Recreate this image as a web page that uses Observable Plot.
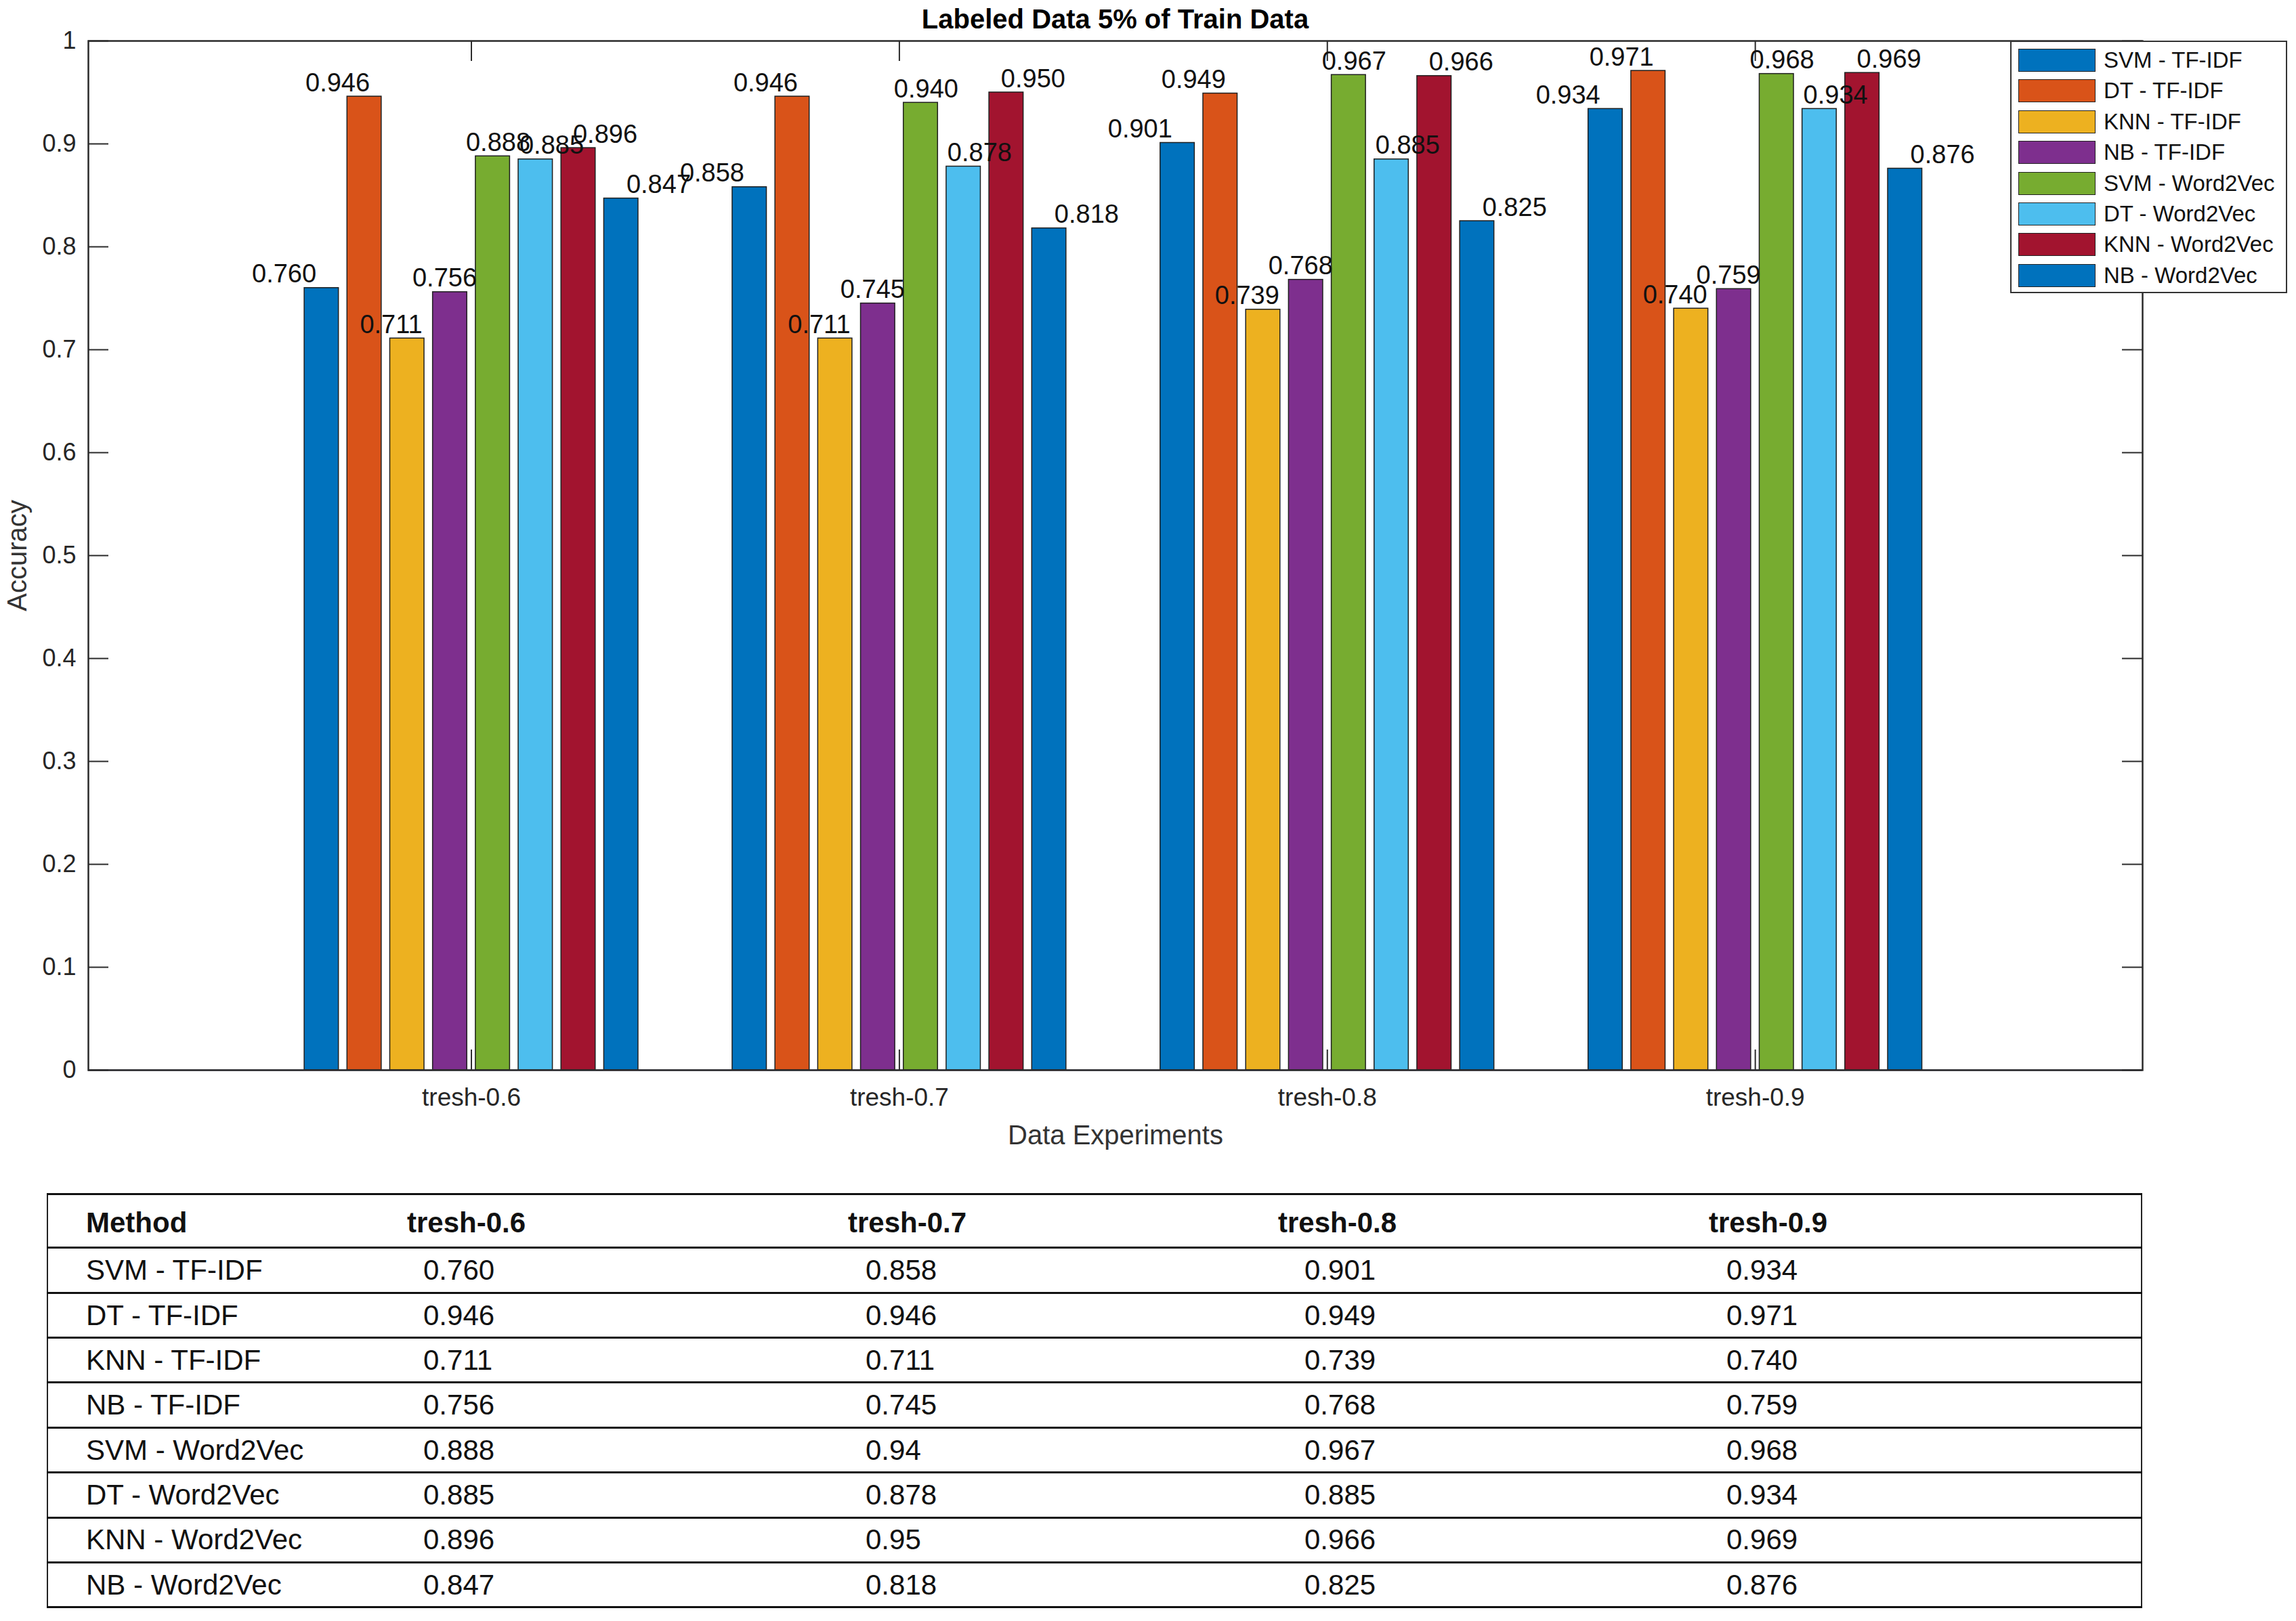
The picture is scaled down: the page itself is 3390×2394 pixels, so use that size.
<!DOCTYPE html>
<html><head><meta charset="utf-8">
<script src="https://cdn.jsdelivr.net/npm/d3@7"></script>
<script src="https://cdn.jsdelivr.net/npm/@observablehq/plot@0.6"></script>
<style>
html,body{margin:0;padding:0;background:#fff;}
#root{position:relative;width:3390px;height:2394px;overflow:hidden;font-family:Arial,"Liberation Sans",Helvetica,sans-serif;color:#111;}
#chart{position:absolute;left:0;top:0;}
#title{position:absolute;left:130px;width:3033px;top:6px;line-height:44px;text-align:center;font-weight:bold;font-size:40px;color:#000;}
#legend{position:absolute;left:2968px;top:60px;width:405px;height:369px;border:2px solid #333;background:#fff;box-sizing:content-box;}
.lg-row{position:absolute;left:10px;height:34px;}
.lg-sw{position:absolute;left:0;top:0;width:112px;height:32px;border:1.5px solid #222;}
.lg-tx{position:absolute;left:126px;top:-3px;line-height:40px;font-size:33px;white-space:nowrap;color:#111;}
#table{position:absolute;left:69px;top:1764px;width:3094px;height:610px;border-left:2px solid #222;border-right:2px solid #222;box-sizing:border-box;}
.t-line{position:absolute;left:-2px;width:3094px;height:0;border-top:3.5px solid #111;}
.t-cell{position:absolute;font-size:42px;white-space:nowrap;color:#111;}
.t-head{font-weight:bold;}
</style></head><body><div id="root"><div id="chart"></div><div id="title"></div><div id="legend"></div><div id="table"></div></div>
<script>
// ---- data ----
const title = "Labeled Data 5% of Train Data";
const thresholds = ["tresh-0.6", "tresh-0.7", "tresh-0.8", "tresh-0.9"];
const methods = ["SVM - TF-IDF", "DT - TF-IDF", "KNN - TF-IDF", "NB - TF-IDF",
                 "SVM - Word2Vec", "DT - Word2Vec", "KNN - Word2Vec", "NB - Word2Vec"];
const svmTfidf = ["0.760", "0.858", "0.901", "0.934"];
const dtTfidf  = ["0.946", "0.946", "0.949", "0.971"];
const knnTfidf = ["0.711", "0.711", "0.739", "0.740"];
const nbTfidf  = ["0.756", "0.745", "0.768", "0.759"];
const svmW2v   = ["0.888", "0.94",  "0.967", "0.968"];
const dtW2v    = ["0.885", "0.878", "0.885", "0.934"];
const knnW2v   = ["0.896", "0.95",  "0.966", "0.969"];
const nbW2v    = ["0.847", "0.818", "0.825", "0.876"];
const yTicks = [0, 0.1, 0.2, 0.3, 0.4, 0.5, 0.6, 0.7, 0.8, 0.9, 1];
const colors = ["#0072BD", "#D95319", "#EDB120", "#7E2F8E", "#77AC30", "#4DBEEE", "#A2142F", "#0072BD"];
const xLabel = "Data Experiments";
const yLabel = "Accuracy";

const series = [svmTfidf, dtTfidf, knnTfidf, nbTfidf, svmW2v, dtW2v, knnW2v, nbW2v];
const rows = methods.flatMap((m, s) => series[s].map((v, g) => ({method: m, s, g, threshold: thresholds[g], value: +v, text: v})));

// ---- chart ----
const W = 3390, H = 1720, mL = 130, mR = 227, mT = 60, mB = 140;
const innerW = W - mL - mR, innerH = H - mT - mB, tick = 30;
const barStep = 0.1, barW = 0.08, labelStep = 0.125;
const fmtY = d => d === 0 ? "0" : d === 1 ? "1" : d.toFixed(1);
const groupPos = thresholds.map((t, i) => i + 1);

const chart = Plot.plot({
  width: W, height: H,
  marginLeft: mL, marginRight: mR, marginTop: mT, marginBottom: mB,
  style: {fontFamily: "Arial, 'Liberation Sans', Helvetica, sans-serif", background: "transparent", overflow: "visible"},
  x: {type: "linear", domain: [0.105, 4.905], axis: null},
  y: {domain: [0, 1], axis: null},
  color: {domain: methods, range: colors},
  marks: [
    Plot.ruleY([0], {stroke: "#a9a9c4", strokeWidth: 3}),
    Plot.rectY(rows, {
      x1: d => d.g + 1 + (d.s - 3.5) * barStep - barW / 2,
      x2: d => d.g + 1 + (d.s - 3.5) * barStep + barW / 2,
      y1: 0, y2: "value", fill: "method", stroke: "#1f1f1f", strokeWidth: 1.5
    }),
    Plot.frame({stroke: "#2a2a2a", strokeWidth: 2.5}),
    Plot.tickY(yTicks, {y: d => d, insetRight: innerW - tick, stroke: "#2a2a2a", strokeWidth: 2}),
    Plot.tickY(yTicks, {y: d => d, insetLeft: innerW - tick, stroke: "#2a2a2a", strokeWidth: 2}),
    Plot.tickX(groupPos, {x: d => d, insetBottom: innerH - tick, stroke: "#2a2a2a", strokeWidth: 2}),
    Plot.tickX(groupPos, {x: d => d, insetTop: innerH - tick, stroke: "#2a2a2a", strokeWidth: 2}),
    Plot.text(rows, {
      x: d => d.g + 1 + (d.s - 3.5) * labelStep, y: "value",
      text: d => d.value.toFixed(3), lineAnchor: "bottom", dy: -8, fontSize: 38, fill: "#111"
    }),
    Plot.text(yTicks, {y: d => d, frameAnchor: "left", dx: -18, textAnchor: "end", text: fmtY, fontSize: 36, fill: "#262626"}),
    Plot.text(thresholds, {x: (d, i) => i + 1, frameAnchor: "bottom", dy: 52, textAnchor: "middle", text: d => d, fontSize: 37, fill: "#262626"}),
    Plot.text([xLabel], {frameAnchor: "bottom", dy: 109, textAnchor: "middle", text: d => d, fontSize: 40, fill: "#333"}),
    Plot.text([yLabel], {frameAnchor: "left", dx: -104, rotate: -90, textAnchor: "middle", text: d => d, fontSize: 40, fill: "#333"})
  ]
});
document.getElementById("chart").appendChild(chart);
document.getElementById("title").textContent = title;

// ---- legend ----
const lg = document.getElementById("legend");
methods.forEach((m, i) => {
  const r = document.createElement("div");
  r.className = "lg-row";
  r.style.top = (10 + i * 45.4) + "px";
  const sw = document.createElement("div");
  sw.className = "lg-sw";
  sw.style.background = colors[i];
  const tx = document.createElement("div");
  tx.className = "lg-tx";
  tx.textContent = m;
  r.appendChild(sw); r.appendChild(tx);
  lg.appendChild(r);
});

// ---- table ----
const tb = document.getElementById("table");
const headH = 79, rowH = (610 - 79) / methods.length;
const headX = [530, 1181, 1816, 2452];
const valX = [554, 1207, 1855, 2478];
function line(y) { const l = document.createElement("div"); l.className = "t-line"; l.style.top = (y - 1.75) + "px"; tb.appendChild(l); }
function cell(txt, x, yc, head) {
  const c = document.createElement("div");
  c.className = "t-cell" + (head ? " t-head" : "");
  c.textContent = txt;
  c.style.left = x + "px";
  c.style.top = (yc - 24) + "px";
  c.style.lineHeight = "48px";
  tb.appendChild(c);
}
line(0);
cell("Method", 56, headH / 2 + 2, true);
thresholds.forEach((t, j) => cell(t, headX[j], headH / 2 + 2, true));
methods.forEach((m, i) => {
  const top = headH + i * rowH;
  line(top);
  cell(m, 56, top + rowH / 2, false);
  series[i].forEach((v, j) => cell(v, valX[j], top + rowH / 2, false));
});
line(610);
</script></body></html>
